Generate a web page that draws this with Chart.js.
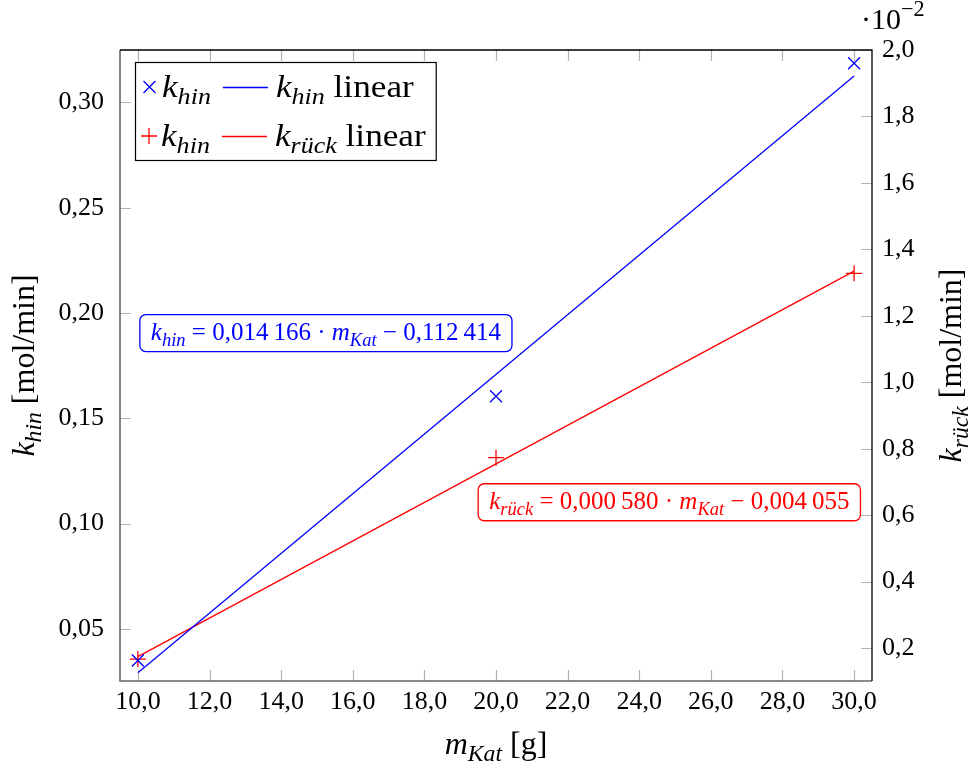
<!DOCTYPE html>
<html>
<head>
<meta charset="utf-8">
<script src="https://cdn.jsdelivr.net/npm/chart.js@4/dist/chart.umd.min.js"></script>
<style>
  html, body { margin: 0; padding: 0; background: #fff; }
  #wrap { width: 969px; height: 769px; position: relative; }
</style>
</head>
<body>
<div id="wrap"><canvas id="chart"></canvas></div>
<script>
// catalyst mass [g] and measured rate constants [mol/min]
const mKat = [10, 20, 30];
const kHin = [0.035, 0.1605, 0.3186];
const kRueck = [0.00167, 0.00773, 0.01328];

// linear fits: [slope, intercept]
const hinFit = [0.014166, -0.112414];
const rueckFit = [0.000580, -0.004055];

// tick positions
const xTicks = [10, 12, 14, 16, 18, 20, 22, 24, 26, 28, 30];
const hinTicks = [0.05, 0.10, 0.15, 0.20, 0.25, 0.30];
const rueckTicks = [0.002, 0.004, 0.006, 0.008, 0.010, 0.012, 0.014, 0.016, 0.018, 0.020];

const BLUE = '#0000ff';
const RED = '#ff0000';
const SERIF = '"Liberation Serif", "DejaVu Serif", serif';
const FS = 26;      // tick labels
const FL = 32;      // legend and axis titles
const FN = 25;      // fit equations
const SUB = 0.74;   // sub/superscript scale

const fitLine = (fit) => [mKat[0], mKat[mKat.length - 1]].map(x => ({ x, y: fit[0] * x + fit[1] }));
const comma = (v, d) => v.toFixed(d).replace('.', ',');

function fontStr(size, italic) {
    return (italic ? 'italic ' : '') + size + 'px ' + SERIF;
}

// text made of runs: {t, it, sub, sup}; sx stretches it horizontally
function richWidth(ctx, parts, size, sx = 1) {
    let w = 0;
    for (const p of parts) {
        ctx.font = fontStr(p.sub || p.sup ? size * SUB : size, p.it);
        w += ctx.measureText(p.t).width * sx;
    }
    return w;
}

function drawRich(ctx, parts, x, y, size, color, sx = 1) {
    ctx.fillStyle = color;
    ctx.textAlign = 'left';
    ctx.textBaseline = 'alphabetic';
    for (const p of parts) {
        const s = p.sub || p.sup ? size * SUB : size;
        const dy = p.sub ? size * 0.22 : p.sup ? -size * 0.42 : 0;
        ctx.font = fontStr(s, p.it);
        ctx.save();
        ctx.translate(x, y + dy);
        ctx.scale(sx, 1);
        ctx.fillText(p.t, 0, 0);
        ctx.restore();
        x += ctx.measureText(p.t).width * sx;
    }
    return x;
}

function roundRect(ctx, x, y, w, h, r) {
    ctx.beginPath();
    ctx.moveTo(x + r, y);
    ctx.arcTo(x + w, y, x + w, y + h, r);
    ctx.arcTo(x + w, y + h, x, y + h, r);
    ctx.arcTo(x, y + h, x, y, r);
    ctx.arcTo(x, y, x + w, y, r);
    ctx.closePath();
}

const kHinTxt = [{ t: 'k', it: true }, { t: 'hin', it: true, sub: true }];
const kRueckTxt = [{ t: 'k', it: true }, { t: 'rück', it: true, sub: true }];
const mKatTxt = [{ t: 'm', it: true }, { t: 'Kat', it: true, sub: true }];

const fmtFit = (v) => {
    const s = comma(Math.abs(v), 6);
    return s.slice(0, 5) + '\u2009' + s.slice(5);
};

const notes = [
    { axis: 'y', x: 15.25, y: 0.1905, color: BLUE,
      parts: [...kHinTxt, { t: ' = ' + fmtFit(hinFit[0]) + ' · ' }, ...mKatTxt, { t: ' − ' + fmtFit(hinFit[1]) }] },
    { axis: 'y2', x: 24.84, y: 0.00639, color: RED,
      parts: [...kRueckTxt, { t: ' = ' + fmtFit(rueckFit[0]) + ' · ' }, ...mKatTxt, { t: ' − ' + fmtFit(rueckFit[1]) }] }
];

function drawMarker(ctx, style, x, y, r, color) {
    ctx.strokeStyle = color;
    ctx.lineWidth = 1.3;
    ctx.beginPath();
    if (style === 'crossRot') {
        const o = r * Math.SQRT1_2;
        ctx.moveTo(x - o, y - o); ctx.lineTo(x + o, y + o);
        ctx.moveTo(x - o, y + o); ctx.lineTo(x + o, y - o);
    } else {
        ctx.moveTo(x - r, y); ctx.lineTo(x + r, y);
        ctx.moveTo(x, y - r); ctx.lineTo(x, y + r);
    }
    ctx.stroke();
}

const decor = {
    id: 'decor',
    beforeDatasetsDraw(chart) {
        const { ctx, chartArea: a, scales } = chart;
        ctx.save();
        // ticks pointing into the plot
        ctx.strokeStyle = '#b3b3b3';
        ctx.lineWidth = 1.2;
        ctx.beginPath();
        for (const v of xTicks) {
            const px = Math.round(scales.x.getPixelForValue(v)) + 0.5;
            ctx.moveTo(px, a.bottom); ctx.lineTo(px, a.bottom - 11);
            ctx.moveTo(px, a.top); ctx.lineTo(px, a.top + 11);
        }
        for (const v of hinTicks) {
            const py = Math.round(scales.y.getPixelForValue(v)) + 0.5;
            ctx.moveTo(a.left, py); ctx.lineTo(a.left + 11, py);
        }
        for (const v of rueckTicks) {
            const py = Math.round(scales.y2.getPixelForValue(v)) + 0.5;
            ctx.moveTo(a.right, py); ctx.lineTo(a.right - 11, py);
        }
        ctx.stroke();

        // axis frame: left/bottom from the first axis, top/right from the second
        ctx.lineWidth = 1.6;
        ctx.strokeStyle = '#666666';
        ctx.beginPath();
        ctx.moveTo(a.left, a.top); ctx.lineTo(a.left, a.bottom); ctx.lineTo(a.right, a.bottom);
        ctx.stroke();
        ctx.lineWidth = 1.3;
        ctx.strokeStyle = '#000000';
        ctx.beginPath();
        ctx.moveTo(a.left, a.top); ctx.lineTo(a.right, a.top); ctx.lineTo(a.right, a.bottom);
        ctx.stroke();
        ctx.restore();
    },
    afterDraw(chart) {
        const { ctx, chartArea: a, scales } = chart;
        ctx.save();

        // fit equations in rounded boxes
        for (const n of notes) {
            const cx = scales.x.getPixelForValue(n.x);
            const cy = scales[n.axis].getPixelForValue(n.y);
            const w = richWidth(ctx, n.parts, FN);
            const bw = w + 22, bh = 37;
            roundRect(ctx, cx - bw / 2, cy - bh / 2, bw, bh, 6);
            ctx.fillStyle = '#fff';
            ctx.fill();
            ctx.strokeStyle = n.color;
            ctx.lineWidth = 1.3;
            ctx.stroke();
            drawRich(ctx, n.parts, cx - w / 2, cy + 7, FN, n.color);
        }

        // legend
        const SX = 1.1;
        const rows = [
            { marker: 'crossRot', r: 8.5, color: BLUE, label: kHinTxt, line: [...kHinTxt, { t: ' linear' }] },
            { marker: 'cross', r: 8, color: RED, label: kHinTxt, line: [...kRueckTxt, { t: ' linear' }] }
        ];
        const lx = 135, ly = 62, lh = 98;
        const items = rows.map((r, i) => ({ r, cy: ly + 25 + i * 49, x: lx + 6 }));
        let maxX = 0;
        for (const it of items) {
            const x = it.x + 2 * it.r.r + 4 + richWidth(ctx, it.r.label, FL, SX) + 12 + 45 + 8 + richWidth(ctx, it.r.line, FL, SX);
            maxX = Math.max(maxX, x);
        }
        const lw = maxX + 10 - lx;
        ctx.fillStyle = '#fff';
        ctx.fillRect(lx, ly, lw, lh);
        ctx.strokeStyle = '#000';
        ctx.lineWidth = 1.2;
        ctx.strokeRect(lx + 0.5, ly + 0.5, lw, lh);
        for (const { r, cy, x: x0 } of items) {
            let x = x0;
            drawMarker(ctx, r.marker, x + r.r, cy, r.r, r.color);
            x += 2 * r.r + 4;
            x = drawRich(ctx, r.label, x, cy + 10, FL, '#000', SX) + 12;
            ctx.strokeStyle = r.color;
            ctx.lineWidth = 1.3;
            ctx.beginPath();
            ctx.moveTo(x, cy + 0.5); ctx.lineTo(x + 45, cy + 0.5);
            ctx.stroke();
            x += 45 + 8;
            drawRich(ctx, r.line, x, cy + 10, FL, '#000', SX);
        }

        // axis titles
        const xt = [...mKatTxt, { t: ' [g]' }];
        drawRich(ctx, xt, (a.left + a.right) / 2 - richWidth(ctx, xt, FL) / 2, 754, FL, '#000');

        const lt = [...kHinTxt, { t: ' [mol/min]' }];
        ctx.save();
        ctx.translate(34, (a.top + a.bottom) / 2);
        ctx.rotate(-Math.PI / 2);
        drawRich(ctx, lt, -richWidth(ctx, lt, FL) / 2, 0, FL, '#000');
        ctx.restore();

        const rt = [...kRueckTxt, { t: ' [mol/min]' }];
        ctx.save();
        ctx.translate(961, (a.top + a.bottom) / 2);
        ctx.rotate(-Math.PI / 2);
        drawRich(ctx, rt, -richWidth(ctx, rt, FL) / 2, 0, FL, '#000');
        ctx.restore();

        // common factor of the right axis
        drawRich(ctx, [{ t: '·10' }, { t: '−2', sup: true }], 861, 29, 30, '#000');
        ctx.restore();
    }
};

const tickFont = { family: SERIF, size: FS };

new Chart(document.getElementById('chart'), {
    type: 'scatter',
    data: {
        datasets: [
            {
                label: 'k_hin',
                data: mKat.map((x, i) => ({ x, y: kHin[i] })),
                yAxisID: 'y',
                pointStyle: 'crossRot',
                pointRadius: 8.5,
                pointBorderColor: BLUE,
                pointBorderWidth: 1.3,
                showLine: false
            },
            {
                label: 'k_hin linear',
                data: fitLine(hinFit),
                yAxisID: 'y',
                showLine: true,
                borderColor: BLUE,
                borderWidth: 1.3,
                pointRadius: 0
            },
            {
                label: 'k_rück',
                data: mKat.map((x, i) => ({ x, y: kRueck[i] })),
                yAxisID: 'y2',
                pointStyle: 'cross',
                pointRadius: 8,
                pointBorderColor: RED,
                pointBorderWidth: 1.3,
                showLine: false
            },
            {
                label: 'k_rück linear',
                data: fitLine(rueckFit),
                yAxisID: 'y2',
                showLine: true,
                borderColor: RED,
                borderWidth: 1.3,
                pointRadius: 0
            }
        ]
    },
    options: {
        responsive: true,
        maintainAspectRatio: false,
        animation: false,
        devicePixelRatio: 1,
        layout: { padding: { top: 50, left: 0, right: 0, bottom: 0 } },
        plugins: {
            legend: { display: false },
            tooltip: { enabled: false }
        },
        scales: {
            x: {
                type: 'linear',
                position: 'bottom',
                min: 9.5,
                max: 30.5,
                afterBuildTicks: (s) => { s.ticks = xTicks.map(value => ({ value })); },
                afterFit: (s) => { s.height = 88; },
                ticks: { font: tickFont, color: '#000', padding: 6, maxRotation: 0,
                         callback: (v) => comma(v, 1) },
                grid: { display: false, drawTicks: false },
                border: { display: false }
            },
            y: {
                type: 'linear',
                position: 'left',
                min: 0.0253,
                max: 0.3249,
                afterBuildTicks: (s) => { s.ticks = hinTicks.map(value => ({ value })); },
                afterFit: (s) => { s.width = 120; },
                ticks: { font: tickFont, color: '#000', padding: 16,
                         callback: (v) => comma(v, 2) },
                grid: { display: false, drawTicks: false },
                border: { display: false }
            },
            y2: {
                type: 'linear',
                position: 'right',
                min: 0.00101,
                max: 0.0200,
                afterBuildTicks: (s) => { s.ticks = rueckTicks.map(value => ({ value })); },
                afterFit: (s) => { s.width = 97; },
                ticks: { font: tickFont, color: '#000', padding: 10,
                         callback: (v) => comma(v * 100, 1) },
                grid: { display: false, drawTicks: false },
                border: { display: false }
            }
        }
    },
    plugins: [decor]
});
</script>
</body>
</html>
